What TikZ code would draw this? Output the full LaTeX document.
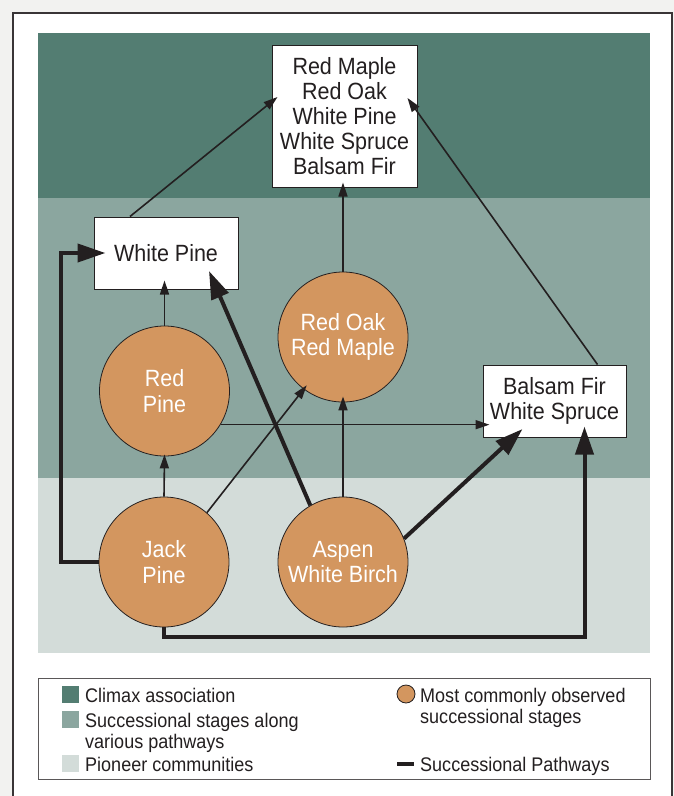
\documentclass[tikz,border=0pt]{standalone}
\usepackage{fontspec}
\setmainfont[FakeStretch=0.915]{Liberation Sans}
\usetikzlibrary{arrows.meta}
\definecolor{climax}{HTML}{537D72}
\definecolor{succ}{HTML}{8BA69F}
\definecolor{pioneer}{HTML}{D3DCD9}
\definecolor{orng}{HTML}{D3965F}
\definecolor{pagebg}{HTML}{F2F2F0}
\definecolor{ink}{HTML}{231F20}
\tikzset{
  boxnode/.style={draw=ink, fill=white, line width=1pt, inner sep=0pt, align=center,
    font=\fontsize{23.5}{25}\selectfont, text=ink},
  circnode/.style={circle, draw=ink, fill=orng, line width=0.8pt, minimum size=130pt,
    inner sep=0pt, align=center, text=white, font=\fontsize{23.5}{25.5}\selectfont},
  thinarrow/.style={draw=ink, line width=1.6pt, -{Triangle[length=14pt,width=9pt]}},
  thickarrow/.style={draw=ink, line width=4pt, -{Triangle[length=28pt,width=18pt]}},
  legtext/.style={anchor=base west, inner sep=0pt, text=ink, font=\fontsize{19.7}{21}\selectfont},
  legsq/.style={inner sep=0pt, minimum size=17pt, anchor=north west}
}
\begin{document}
\begin{tikzpicture}[x=1pt,y=-1pt]
\useasboundingbox (0,0) rectangle (674,796);
\fill[pagebg] (0,0) rectangle (674,796);
\filldraw[fill=white, draw=ink!90, line width=1.5pt] (13,13) rectangle (672,812);
% bands
\fill[climax] (38,33) rectangle (650,198);
\fill[succ] (38,198) rectangle (650,478);
\fill[pioneer] (38,478) rectangle (650,653);

% nodes
\node[boxnode, minimum width=145pt, minimum height=142pt] (tb) at (344.5,116)
  {Red Maple\\Red Oak\\White Pine\\White Spruce\\Balsam Fir};
\node[boxnode, minimum width=144pt, minimum height=72pt] (wp) at (166,253) {White Pine};
\node[boxnode, minimum width=143pt, minimum height=72pt] (bf) at (554.5,401) {Balsam Fir\\White Spruce};
\node[circnode] (rp) at (164.5,391) {Red\\Pine};
\node[circnode] (ro) at (343,337) {Red Oak\\Red Maple};
\node[circnode] (jp) at (164,562) {Jack\\Pine};
\node[circnode] (asp) at (343,562) {Aspen\\White Birch};

% thin connectors
\draw[thinarrow] ([xshift=-36pt]wp.north) -- ([xshift=6pt,yshift=19pt]tb.west);
\draw[thinarrow] ([xshift=43pt]bf.north) -- ([xshift=-10pt,yshift=18pt]tb.east);
\draw[thinarrow, shorten >=-5pt] (ro.north) -- (ro.north |- tb.south);
\draw[thinarrow, shorten >=-9pt] (rp.north) -- (rp.north |- wp.south);
\draw[thinarrow, shorten >=-7pt] (rp.-31) -- (rp.-31 -| bf.west);
\draw[thinarrow, shorten >=-2pt] (jp.north) -- (rp.south);
\draw[thinarrow, shorten >=-5pt] (jp.49) -- (ro.233);
\draw[thinarrow, shorten >=-6pt] (asp.north) -- (ro.south);

% thick connectors
\draw[thickarrow] (asp.120) -- ([xshift=43pt,yshift=-18pt]wp.center);
\draw[thickarrow] (asp.21) -- ([xshift=-32pt,yshift=-28pt]bf.center);
\draw[thickarrow] (jp.west) -- ++(-38,0) |- ([xshift=12pt]wp.west);
\draw[thickarrow] (jp.south) -- ++(0,10) -| ([xshift=30pt,yshift=11pt]bf.south);

% legend
\draw[draw=ink!75, line width=1pt] (38,678) rectangle (650,779);
\node[legsq, fill=climax] (s1) at (62,686) {};
\node[legsq, fill=succ] (s2) at (62,711) {};
\node[legsq, fill=pioneer] (s3) at (62,755) {};
\node[legtext] (l1) at (85,702) {Climax association};
\node[legtext] (l2) at (85,727) {Successional stages along};
\node[legtext] (l2b) at (85,748) {various pathways};
\node[legtext] (l3) at (85,771) {Pioneer communities};
\node[circle, draw=ink, fill=orng, line width=0.8pt, minimum size=18pt, inner sep=0pt] (lc) at (406,694) {};
\node[legtext] (l4) at (420,702) {Most commonly observed};
\node[legtext] (l4b) at (420,723) {successional stages};
\coordinate (la) at (397,764);
\coordinate (lb) at (414,764);
\draw[ink, line width=4pt] (la) -- (lb);
\node[legtext] (l5) at (420,771) {Successional Pathways};
\end{tikzpicture}
\end{document}
